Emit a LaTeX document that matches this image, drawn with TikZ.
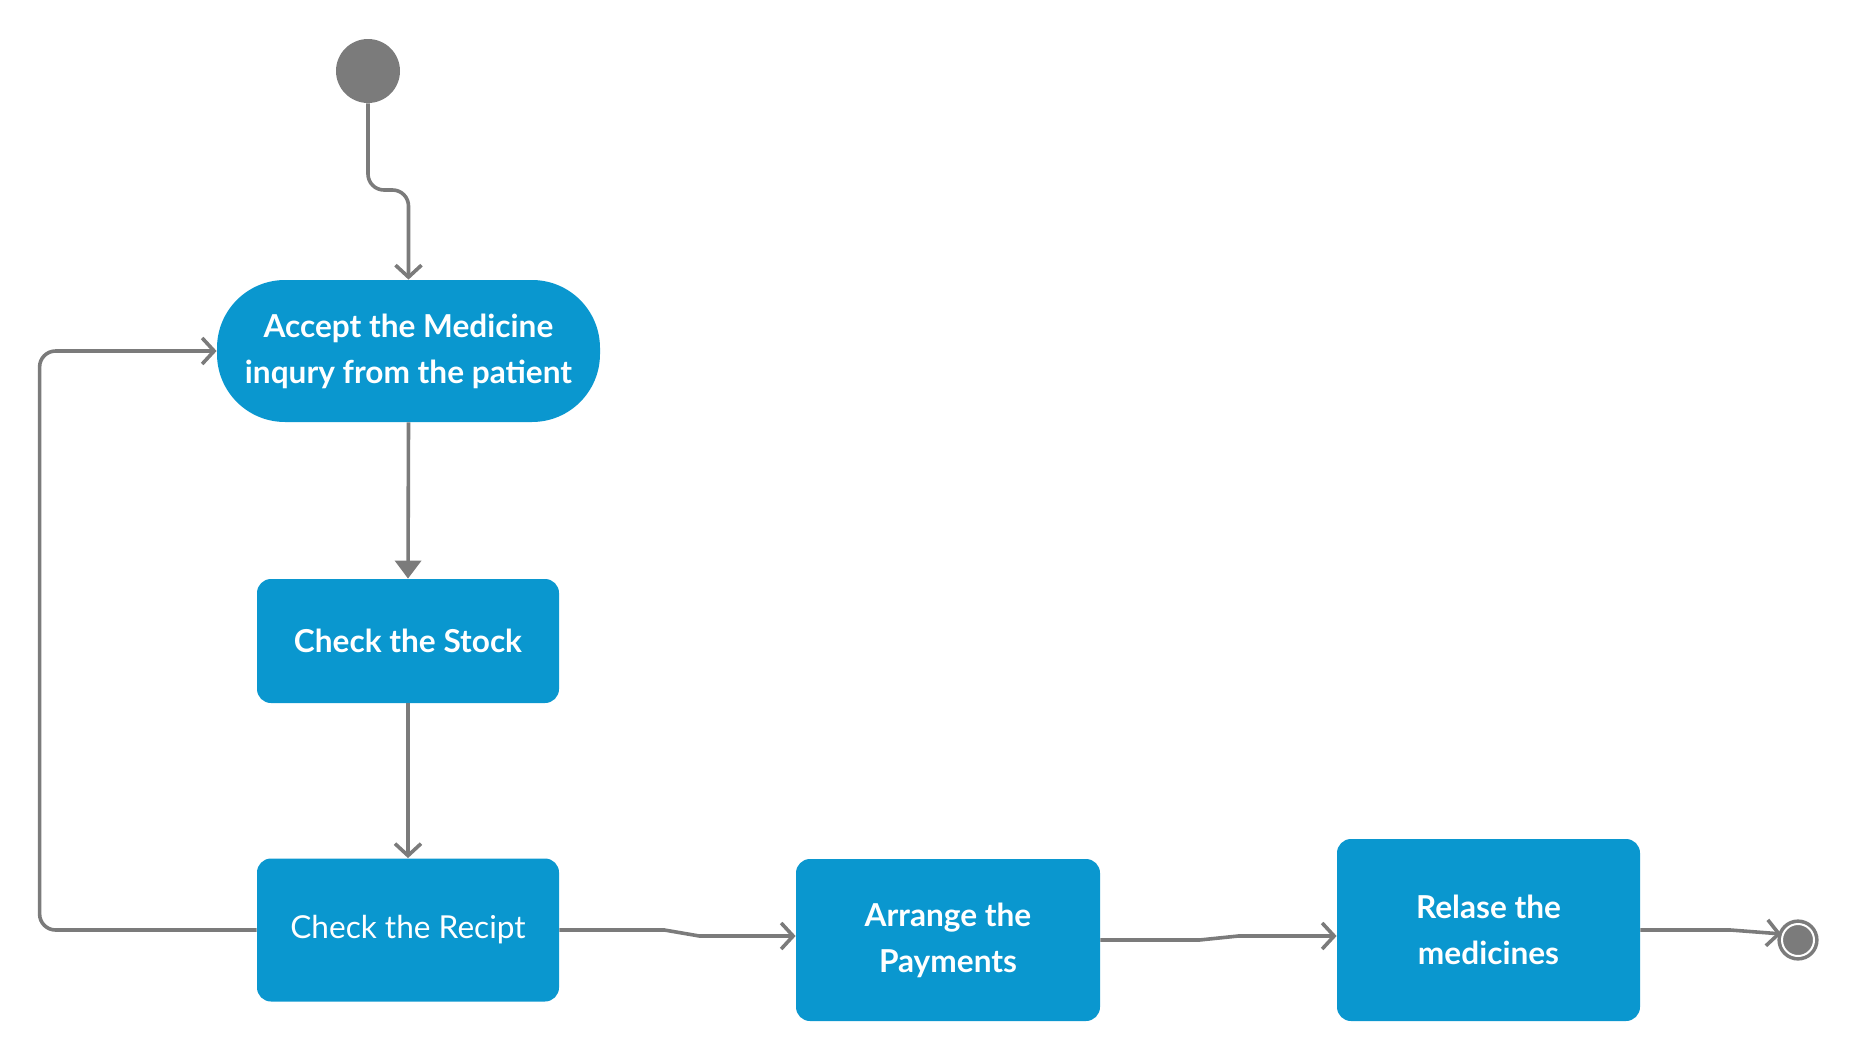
\documentclass[tikz,border=0pt]{standalone}
\usepackage{fontspec}
\setmainfont{Lato}
\usetikzlibrary{arrows.meta,calc}
\definecolor{activity}{HTML}{0A97CF}
\definecolor{flowgray}{HTML}{7B7B7B}

\begin{document}
\begin{tikzpicture}[x=0.5pt,y=-0.5pt,
  act/.style={fill=activity,text=white,rounded corners=7pt,align=center,
    font=\fontsize{15.8}{23}\selectfont\bfseries,inner sep=0pt},
  flow/.style={draw=flowgray,line width=1.8pt,-{Straight Barb[length=6pt,width=13pt,line width=1.8pt]}},
  push/.style={draw=flowgray,line width=1.8pt,-{Triangle[length=9pt,width=13pt]},flowgray}]
  \useasboundingbox (0,0) rectangle (1858,1060);

  \node[circle,fill=flowgray,minimum size=32pt,inner sep=0pt] (start) at (368,71) {};
  \node[act,rounded corners=34pt,minimum width=191.5pt,minimum height=71pt] (accept) at (408.5,351) {Accept the Medicine\\inqury from the patient};
  \node[act,minimum width=151pt,minimum height=62pt] (stock) at (408,641) {Check the Stock};
  \node[act,minimum width=151pt,minimum height=71.5pt,font=\fontsize{15.8}{23}\selectfont] (recipt) at (408,930) {Check the Recipt};
  \node[act,minimum width=152pt,minimum height=81pt] (arrange) at (948,940) {Arrange the\\Payments};
  \node[act,minimum width=151.5pt,minimum height=91pt] (relase) at (1488.5,930) {Relase the\\medicines};
  \node[circle,fill=flowgray,draw=flowgray,line width=1.8pt,double=white,double distance=1pt,
    minimum size=16pt,inner sep=0pt] (final) at (1798,940) {};

  \draw[flow,rounded corners=8pt] (start.south) -- (368,190) -- (408.5,190) -- (accept.north);
  \draw[push] (accept.south) -- (stock.north);
  \draw[flow] (stock.south) -- (recipt.north);
  \draw[flow,rounded corners=8pt] (recipt.west) -- ++(-217,0) |- (accept.west);
  \draw[flow] (recipt.east) -- ++(105,0) -- ++(35,6) -- ([yshift=2pt]arrange.west);
  \draw[flow] (arrange.east) -- ++(99,0) -- ++(39,-4) -- ([yshift=-3pt]relase.west);
  \draw[flow] (relase.east) -- ++(90,0) -- (final.160);
\end{tikzpicture}
\end{document}
